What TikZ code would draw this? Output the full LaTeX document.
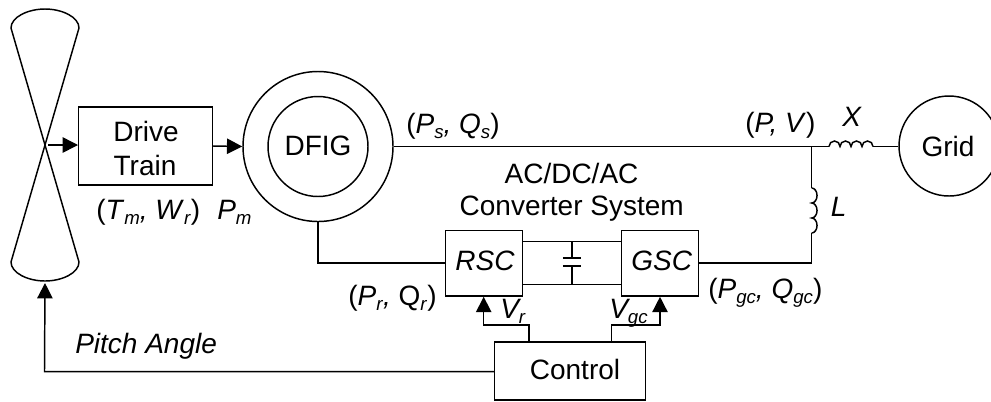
\documentclass[tikz,border=0pt]{standalone}
\usepackage{fontspec}
\setmainfont{Liberation Sans}
\usetikzlibrary{arrows.meta,calc}
\newcommand{\sbs}[1]{\raisebox{-0.2em}{\fontsize{14}{14}\selectfont #1}}
\tikzset{
  wire/.style={line width=1.1pt,line join=miter},
  arrowwire/.style={wire,-{Triangle[length=11.5pt,width=11.5pt]}},
  box/.style={draw,line width=1.1pt,rectangle,inner sep=0pt},
  ring/.style={draw,line width=1.1pt,circle,inner sep=0pt},
  lab/.style={anchor=base west,inner sep=0pt,font=\fontsize{21}{24}\selectfont},
  ilab/.style={lab,font=\fontsize{21}{24}\selectfont\itshape},
  clab/.style={anchor=base,inner sep=0pt,font=\fontsize{21}{24}\selectfont},
  iclab/.style={clab,font=\fontsize{21}{24}\selectfont\itshape},
}
\begin{document}
\begin{tikzpicture}[x=0.75pt,y=-0.75pt]
\clip (0,0) rectangle (991,401);
% turbine blades
\coordinate (hub) at (45,145);
\draw[wire,line join=round] (45,9) .. controls (28,9) and (11,17) .. (11,28) -- (79,262)
  .. controls (79,273) and (62,281) .. (45,281) .. controls (28,281) and (11,273) .. (11,262)
  -- (79,28) .. controls (79,17) and (62,9) .. (45,9) -- cycle;
\coordinate (hubout) at (48,145);
\coordinate (tipbase) at (45,283);
% boxes
\node[box,minimum width=133.5*0.75pt,minimum height=78*0.75pt] (dt) at (145.5,146) {};
\node[clab] (dt1) at (146,141.7) {Drive};
\node[clab] (dt2) at (145,175) {Train};
\node[ring,minimum size=150*0.75pt] (gen) at (318,146.5) {};
\node[ring,minimum size=100*0.75pt] (geni) at (318,146.5) {};
\node[clab] (dfig) at (318,155.5) {DFIG};
\node[ring,minimum size=100*0.75pt] (grid) at (949,146) {};
\node[clab] (gridt) at (948,156.7) {Grid};
\node[box,minimum width=76.6*0.75pt,minimum height=65.5*0.75pt] (rsc) at (484,263.3) {};
\node[iclab] (rsct) at (485,270.7) {RSC};
\node[box,minimum width=77*0.75pt,minimum height=65.5*0.75pt] (gsc) at (660.2,263.3) {};
\node[iclab] (gsct) at (661.7,270.7) {GSC};
\node[box,minimum width=150.5*0.75pt,minimum height=58*0.75pt] (ctl) at (570,371) {};
\node[clab] (ctlt) at (575,379) {Control};
% junctions
\coordinate (pcc) at (811.7,146.5);
\coordinate (xa) at (829,146.5);
\coordinate (xb) at (873,146.5);
\coordinate (la) at (811.7,188);
\coordinate (lb) at (811.7,233);
\coordinate (gencorner) at (318.5,263);
\coordinate (lcorner) at (811.7,263);
\coordinate (pitchcorner) at (44.5,371.7);
\coordinate (capa) at (572,258);
\coordinate (capb) at (572,266);
% connectors
\draw[arrowwire] (hubout) -- (dt.west |- hubout);
\draw[arrowwire] (dt.east) -- (gen.west);
\draw[wire] (gen.east) -- (pcc) -- (xa);
\draw[wire] (xa) arc[start angle=180,end angle=0,radius=4.125pt]
  arc[start angle=180,end angle=0,radius=4.125pt]
  arc[start angle=180,end angle=0,radius=4.125pt]
  arc[start angle=180,end angle=0,radius=4.125pt];
\draw[wire] (xb) -- (grid.west |- xb);
\draw[wire] (pcc) -- (la);
\draw[wire] (la) arc[start angle=90,end angle=-90,x radius=4pt,y radius=5.625pt]
  arc[start angle=90,end angle=-90,x radius=4pt,y radius=5.625pt]
  arc[start angle=90,end angle=-90,x radius=4pt,y radius=5.625pt];
\draw[wire] (lb) -- (lcorner) -- (gsc.east |- lcorner);
\draw[wire] (gen.south) -- (gen.south |- gencorner) -- (rsc.west |- gencorner);
\draw[wire] (rsc.east |- 0,241.7) -- (gsc.west |- 0,241.7);
\draw[wire] (rsc.east |- 0,284.7) -- (gsc.west |- 0,284.7);
\draw[wire] (capa |- 0,241.7) -- (capa);
\draw[wire] (capb) -- (capb |- 0,284.7);
\draw[wire] ($(capa)+(-9.2,0)$) -- ($(capa)+(9.2,0)$);
\draw[wire] ($(capb)+(-9.2,0)$) -- ($(capb)+(9.2,0)$);
\draw[arrowwire] (ctl.north -| 529,0) -- (529,325) -- (483.7,325) -- (rsc.south -| 483.7,0);
\draw[arrowwire] (ctl.north -| 611.7,0) -- (611.7,325) -- (660,325) -- (gsc.south -| 660,0);
\draw[arrowwire] (ctl.west |- pitchcorner) -- (pitchcorner) -- (tipbase);
% labels
\node[lab] (l1) at (96,219) {(\textit{T}\sbs{\textit{m}}\textit{,} \textit{W}\sbs{\textit{r}})};
\node[ilab] (l2) at (217,219) {P\sbs{m}};
\node[ilab] (l3) at (75,353) {Pitch Angle};
\node[lab] (l4) at (406,133) {(\textit{P}\sbs{\textit{s}}\textit{,} \textit{Q}\sbs{\textit{s}})};
\node[clab] (l5) at (571.5,183) {AC/DC/AC};
\node[clab] (l6) at (571.7,215) {Converter System};
\node[lab] (l7) at (348,305) {(\textit{P}\sbs{\textit{r}}\textit{,} Q\sbs{\textit{r}})};
\node[ilab] (l8) at (500,318) {V\sbs{r}};
\node[ilab] (l9) at (609,318) {V\sbs{gc}};
\node[lab] (l10) at (708,298) {(\textit{P}\sbs{\textit{gc}}\textit{,} \textit{Q}\sbs{\textit{gc}})};
\node[lab] (l11) at (745,132) {(\textit{P, V})};
\node[ilab] (l12) at (842,126.7) {X};
\node[ilab] (l13) at (830.7,216) {L};
\end{tikzpicture}
\end{document}
